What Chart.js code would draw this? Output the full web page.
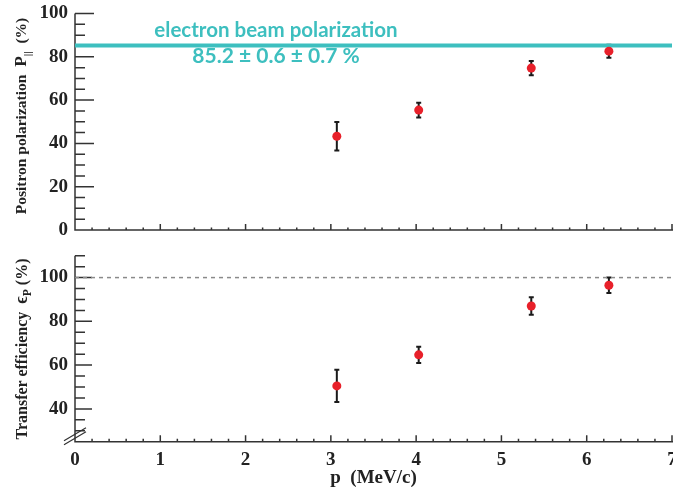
<!DOCTYPE html>
<html>
<head>
<meta charset="utf-8">
<script src="https://cdn.jsdelivr.net/npm/chart.js@4.4.0/dist/chart.umd.min.js"></script>
<style>
  body { margin: 0; width: 673px; height: 491px; overflow: hidden; background: #fff; position: relative; }
  .box { position: absolute; left: 0; width: 673px; }
  #topBox { top: 0; height: 240px; }
  #bottomBox { top: 240px; height: 251px; }
  .ytitle { position: absolute; font-family: "Liberation Serif", serif; font-weight: bold; color: #222;
            white-space: nowrap; transform: translate(-50%, -50%) rotate(-90deg); }
  .ytitle sub { font-size: 0.72em; }
  .ytitle .big { font-size: 1.12em; }
  .beam { position: absolute; font-family: Lato, sans-serif; font-weight: bold; color: #3dbfbf;
          white-space: nowrap; transform: translate(-50%, -50%); }
</style>
</head>
<body>
<div class="box" id="topBox"><canvas id="topChart" width="673" height="240"></canvas></div>
<div class="box" id="bottomBox"><canvas id="bottomChart" width="673" height="251"></canvas></div>
<div class="ytitle" style="left:22px; top:116px; font-size:15.5px;">Positron polarization&nbsp; <span class="big">P</span><sub>||</sub>&nbsp; (%)</div>
<div class="ytitle" style="left:22px; top:349px; font-size:16px;">Transfer efficiency&nbsp; <span class="big">ϵ</span><sub>P</sub> (%)</div>
<div class="beam" style="left:276px; top:29px; font-size:20.5px;">electron beam polarization</div>
<div class="beam" style="left:276px; top:54px; font-size:21px;">85.2 ± 0.6 ± 0.7 %</div>
<script>
const momentum = [3.07, 4.03, 5.35, 6.26];
const polarization = [43.3, 55.4, 74.8, 82.6];
const polarizationErr = [6.6, 3.4, 3.3, 3.0];
const efficiency = [50.5, 64.7, 87.0, 96.5];
const efficiencyErr = [7.4, 3.7, 4.0, 3.5];
const beamPolarization = 85.2;
const fullTransfer = 100;
const xTicks = [0, 1, 2, 3, 4, 5, 6, 7];
const polTicks = [0, 20, 40, 60, 80, 100];
const effTicks = [40, 60, 80, 100];

const serif = { family: '"Liberation Serif", serif', weight: 'bold', size: 19 };

// axis lines + inward ticks, ROOT style
const rootAxes = {
  id: 'rootAxes',
  beforeDatasetsDraw(chart, args, o) {
    const { ctx, chartArea: a, scales: { x, y } } = chart;
    ctx.save();
    ctx.strokeStyle = '#333';
    ctx.lineWidth = 1.5;
    ctx.beginPath();
    ctx.moveTo(a.left, a.top);
    ctx.lineTo(a.left, a.bottom);
    ctx.lineTo(chart.width, a.bottom);
    for (let v = y.min; v <= y.max + 1e-6; v += 5) {
      const py = y.getPixelForValue(v);
      const len = Math.round(v) % 20 === 0 ? o.yMajor : o.yMinor;
      ctx.moveTo(a.left, py);
      ctx.lineTo(a.left + len, py);
    }
    for (let i = 0; i <= 35; i++) {
      const px = x.getPixelForValue(i * 0.2);
      const len = i % 5 === 0 ? o.xMajor : o.xMinor;
      ctx.moveTo(px, a.bottom);
      ctx.lineTo(px, a.bottom - len);
    }
    ctx.stroke();
    if (o.brk) {
      ctx.lineWidth = 1.2;
      ctx.beginPath();
      ctx.moveTo(a.left - 11, a.bottom - 1);
      ctx.lineTo(a.left + 11, a.bottom - 14);
      ctx.moveTo(a.left - 11, a.bottom + 3);
      ctx.lineTo(a.left + 11, a.bottom - 10);
      ctx.stroke();
    }
    // error bars
    ctx.strokeStyle = '#1a1a1a';
    ctx.lineWidth = 2;
    ctx.beginPath();
    o.vals.forEach((v, i) => {
      const px = x.getPixelForValue(momentum[i]);
      const hi = y.getPixelForValue(v + o.errs[i]);
      const lo = y.getPixelForValue(v - o.errs[i]);
      ctx.moveTo(px, hi); ctx.lineTo(px, lo);
      ctx.moveTo(px - 2.5, hi); ctx.lineTo(px + 2.5, hi);
      ctx.moveTo(px - 2.5, lo); ctx.lineTo(px + 2.5, lo);
    });
    ctx.stroke();
    ctx.restore();
  }
};

function makeChart(id, cfg) {
  const pts = momentum.map((m, i) => ({ x: m, y: cfg.vals[i] }));
  return new Chart(document.getElementById(id), {
    type: 'scatter',
    data: {
      datasets: [
        { data: pts, backgroundColor: '#e8202a', borderWidth: 0, pointRadius: 4.5, order: 0 },
        { data: [{ x: 0, y: cfg.ref }, { x: 7, y: cfg.ref }], showLine: true, pointRadius: 0,
          borderColor: cfg.refColor, borderWidth: cfg.refWidth, borderDash: cfg.refDash, order: 1 }
      ]
    },
    options: {
      responsive: false,
      animation: false,
      layout: { autoPadding: false, padding: { top: cfg.padTop, right: 1, left: 0, bottom: 0 } },
      plugins: {
        legend: { display: false },
        tooltip: { enabled: false },
        rootAxes: { vals: cfg.vals, errs: cfg.errs, yMajor: cfg.yMajor, yMinor: 10, xMajor: cfg.xMajor, xMinor: cfg.xMinor, brk: cfg.brk }
      },
      scales: {
        x: {
          type: 'linear', min: 0, max: 7,
          grid: { display: false, drawTicks: false }, border: { display: false },
          afterBuildTicks: s => { s.ticks = xTicks.map(v => ({ value: v })); },
          ticks: { display: cfg.xLabels, font: serif, color: '#222', padding: 7 },
          title: { display: cfg.xLabels, text: 'p  (MeV/c)', font: serif, color: '#222', padding: { top: 0, bottom: 2 } },
          afterFit: s => { s.height = cfg.xHeight; s.paddingLeft = 0; s.paddingRight = 0; }
        },
        y: {
          min: cfg.yMin, max: cfg.yMax,
          grid: { display: false, drawTicks: false }, border: { display: false },
          afterBuildTicks: s => { s.ticks = cfg.yTicks.map(v => ({ value: v })); },
          ticks: { font: serif, color: '#222', padding: 7 },
          afterFit: s => { s.width = 75; s.paddingTop = 0; s.paddingBottom = 0; }
        }
      }
    },
    plugins: [rootAxes]
  });
}

makeChart('topChart', {
  vals: polarization, errs: polarizationErr, ref: beamPolarization,
  refColor: '#3dbfbf', refWidth: 4, refDash: [],
  yMin: 0, yMax: 100, yTicks: polTicks, padTop: 13.5, xHeight: 10,
  xLabels: false, yMajor: 19, xMajor: 6, xMinor: 2.5, brk: false
});

makeChart('bottomChart', {
  vals: efficiency, errs: efficiencyErr, ref: fullTransfer,
  refColor: '#8a8a8a', refWidth: 1.5, refDash: [4, 4],
  yMin: 25, yMax: 110, yTicks: effTicks, padTop: 15.7, xHeight: 49.3,
  xLabels: true, yMajor: 17, xMajor: 6.5, xMinor: 3, brk: true
});
</script>
</body>
</html>
